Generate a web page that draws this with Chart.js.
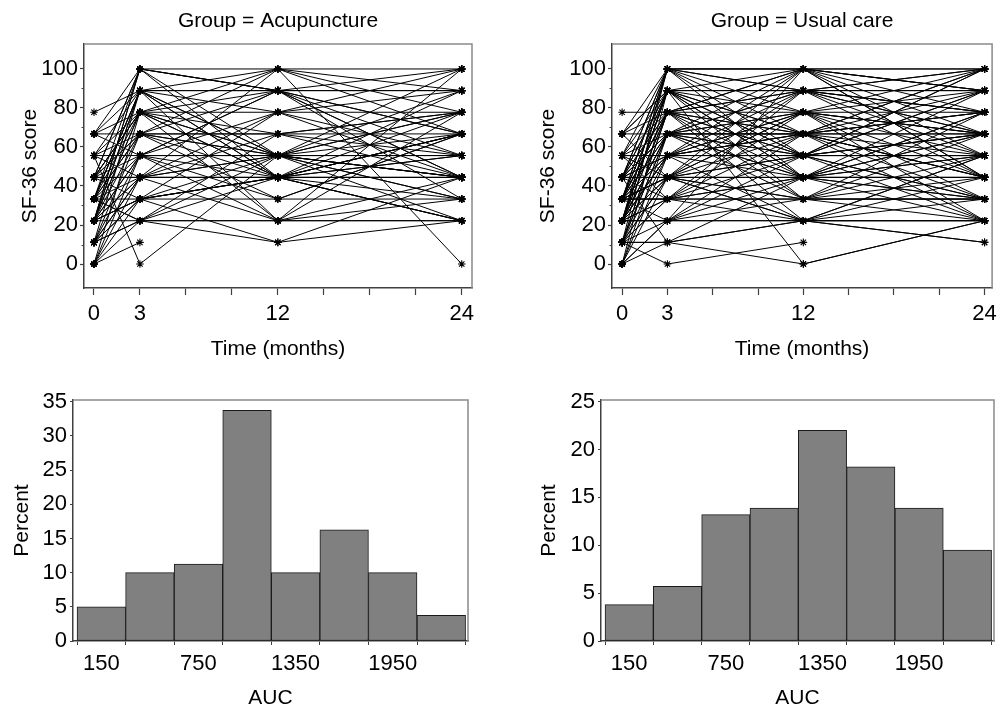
<!DOCTYPE html>
<html>
<head>
<meta charset="utf-8">
<script src="https://cdn.jsdelivr.net/npm/chart.js@4/dist/chart.umd.min.js"></script>
<style>
    body { margin: 0; background: #fff; width: 1003px; height: 712px; overflow: hidden; position: relative; }
    canvas { position: absolute; }
</style>
</head>
<body>
<canvas id="acuLines" width="500" height="360" style="left:0;top:0"></canvas>
<canvas id="usualLines" width="503" height="360" style="left:500px;top:0"></canvas>
<canvas id="acuHist" width="500" height="352" style="left:0;top:360px"></canvas>
<canvas id="usualHist" width="503" height="352" style="left:500px;top:360px"></canvas>
<script>
// visit times and the SF-36 score steps (profiles below index into scoreLevels)
const months = [0, 3, 12, 24];
const scoreLevels = [0, 11.1, 22.2, 33.3, 44.4, 55.6, 66.7, 77.8, 88.9, 100];

// one row per patient: level at 0, 3, 12, 24 months (null = missing)
const acuProfiles = [
    [7, 8, 8, 8], [0, 1, null, null], [5, 0, 5, 4], [4, 7, 9, 0], [2, 3, 1, 2], [1, 2, 1, 4],
    [2, 9, 9, 9], [3, 8, 8, 8], [4, 7, 7, 7], [6, 6, 6, 6], [5, 5, 5, 5], [4, 4, 4, 4],
    [4, 4, 4, 4], [3, 2, 2, 2], [2, 2, 2, 2], [1, 3, 3, 3], [2, 8, 2, 9], [3, 9, 4, 6],
    [2, 9, 8, 4], [4, 9, 5, 2], [1, 8, 4, 6], [2, 8, 5, 3], [3, 8, 9, 7], [0, 7, 4, 5],
    [2, 7, 6, 4], [4, 7, 8, 6], [3, 7, 2, 3], [5, 6, 9, 8], [1, 6, 5, 7], [3, 6, 4, 2],
    [2, 6, 8, 9], [0, 5, 4, 6], [6, 5, 7, 8], [2, 5, 3, 6], [4, 5, 8, 5], [1, 4, 5, 7],
    [3, 4, 7, 4], [5, 4, 4, 3], [0, 4, 6, 7], [2, 4, 9, 6], [1, 3, 5, 4], [4, 3, 4, 6],
    [2, 3, 7, 9], [0, 2, 4, 5], [3, 2, 5, 4], [1, 2, 6, 5], [6, 8, 5, 4], [5, 7, 4, 2],
    [4, 6, 5, 9], [3, 5, 2, 7], [2, 4, 2, 4], [1, 5, 8, 3], [6, 9, 8, 6], [3, 8, 7, 5],
    [4, 6, 3, 6], [2, 7, 5, 8], [0, 3, 4, 2], [3, 3, 4, 4], [5, 8, 4, 7], [2, 5, 5, 5],
    [4, 4, 5, 3], [1, 4, 4, 4], [3, 6, 6, 7], [4, 9, 8, 4], [2, 3, 4, 8], [6, 7, 5, 6]
];
const usualProfiles = [
    [7, 7, 6, 7], [1, 0, 1, null], [2, 8, 0, 2], [1, 1, 0, 2], [3, 4, 2, 1], [0, 1, 2, 3],
    [1, 1, 4, 5], [0, 2, 3, 4], [2, 9, 9, 9], [3, 9, 9, 9], [4, 8, 8, 8], [2, 8, 8, 9],
    [3, 7, 7, 7], [4, 6, 6, 6], [6, 6, 6, 6], [5, 5, 5, 5], [4, 4, 4, 4], [4, 4, 4, 4],
    [3, 3, 3, 3], [2, 2, 2, 2], [2, 2, 2, 2], [1, 3, 3, 3], [3, 9, 8, 7], [2, 9, 6, 8],
    [4, 9, 5, 6], [1, 9, 4, 3], [6, 8, 9, 8], [2, 8, 7, 5], [3, 8, 6, 4], [4, 8, 5, 2],
    [0, 8, 4, 6], [5, 8, 3, 7], [1, 7, 9, 8], [2, 7, 8, 6], [3, 7, 5, 9], [4, 7, 4, 3],
    [6, 7, 2, 4], [2, 6, 9, 7], [3, 6, 8, 5], [1, 6, 7, 4], [4, 6, 5, 8], [5, 6, 4, 2],
    [0, 6, 3, 5], [2, 5, 9, 6], [3, 5, 8, 4], [4, 5, 7, 9], [1, 5, 6, 3], [5, 5, 4, 7],
    [2, 5, 2, 5], [3, 4, 9, 4], [1, 4, 8, 7], [2, 4, 7, 3], [4, 4, 6, 9], [0, 4, 5, 8],
    [3, 4, 3, 6], [6, 4, 2, 2], [2, 3, 8, 8], [1, 3, 7, 6], [3, 3, 6, 2], [4, 3, 5, 9],
    [2, 3, 4, 7], [0, 2, 9, 5], [1, 2, 6, 4], [3, 2, 5, 3], [2, 2, 4, 6], [4, 1, 2, 5],
    [5, 9, 7, 6], [6, 8, 6, 5], [4, 7, 8, 7], [3, 6, 4, 4], [2, 5, 5, 6], [1, 4, 4, 5],
    [5, 3, 4, 8], [3, 7, 9, 4], [2, 6, 7, 8], [4, 5, 6, 7], [3, 8, 5, 5], [1, 7, 6, 9],
    [2, 4, 3, 2], [5, 7, 5, 3], [3, 5, 7, 2], [4, 9, 8, 6], [2, 8, 4, 4], [6, 9, 9, 8],
    [1, 6, 5, 6], [3, 4, 5, 5], [4, 6, 8, 9], [2, 7, 3, 3], [0, 5, 6, 7], [3, 3, 2, 1],
    [5, 4, 7, 6], [2, 6, 6, 4]
];

// AUC histograms (bin midpoints, percent of patients)
const aucBins = [150, 450, 750, 1050, 1350, 1650, 1950, 2250];
const acuPercent = [5, 10, 11.25, 33.75, 10, 16.25, 10, 3.75];
const usualPercent = [3.8, 5.7, 13.2, 13.9, 22.0, 18.2, 13.9, 9.5];

// axis ticks
const timeTicks = [0, 3, 6, 9, 12, 15, 18, 21, 24];
const timeLabels = [0, 3, 12, 24];
const scoreTicks = [0, 20, 40, 60, 80, 100];
const scoreMinor = [10, 30, 50, 70, 90];
const aucTicks = [150, 450, 750, 1050, 1350, 1650, 1950, 2250];
const aucLabels = [150, 750, 1350, 1950];
const acuPctTicks = [0, 5, 10, 15, 20, 25, 30, 35];
const usualPctTicks = [0, 5, 10, 15, 20, 25];

Chart.defaults.font.family = "'Liberation Sans', Arial, sans-serif";
Chart.defaults.font.size = 22;
Chart.defaults.color = '#000';

const AXIS = '#404040';

// grey top/right frame around the plot area
const framePlugin = {
    id: 'frame',
    afterDraw(chart) {
        const { ctx, chartArea: a } = chart;
        ctx.save();
        ctx.strokeStyle = '#8a8a8a';
        ctx.lineWidth = 1.5;
        ctx.beginPath();
        ctx.moveTo(a.left, a.top);
        ctx.lineTo(a.right, a.top);
        ctx.lineTo(a.right, a.bottom);
        ctx.stroke();
        ctx.restore();
    }
};

// short unlabeled ticks on the y axis
const minorTickPlugin = {
    id: 'minorTicks',
    afterDraw(chart, args, opts) {
        if (!opts || !opts.values) return;
        const y = chart.scales.y;
        const ctx = chart.ctx;
        ctx.save();
        ctx.strokeStyle = AXIS;
        ctx.lineWidth = 1;
        opts.values.forEach(v => {
            const py = Math.round(y.getPixelForValue(v)) + 0.5;
            ctx.beginPath();
            ctx.moveTo(y.right, py);
            ctx.lineTo(y.right - opts.length, py);
            ctx.stroke();
        });
        ctx.restore();
    }
};

Chart.register(framePlugin, minorTickPlugin);

function spaghetti(id, profiles, opt) {
    const datasets = profiles.map(p => ({
        data: p.map((lv, i) => lv === null ? null : { x: months[i], y: scoreLevels[lv] })
            .filter(pt => pt !== null),
        showLine: true,
        borderColor: '#000',
        borderWidth: 1,
        pointStyle: 'star',
        pointRadius: 3.8,
        pointBorderColor: '#000',
        pointBackgroundColor: '#000',
        pointBorderWidth: 1.1
    }));
    new Chart(document.getElementById(id), {
        type: 'scatter',
        data: { datasets },
        options: {
            responsive: false,
            animation: false,
            events: [],
            devicePixelRatio: 1,
            layout: { padding: { left: 0, right: opt.padRight, top: 0, bottom: 0 } },
            plugins: {
                legend: { display: false },
                tooltip: { enabled: false },
                title: {
                    display: true,
                    text: opt.title,
                    fullSize: false,
                    color: '#000',
                    font: { size: 21, weight: 'normal', lineHeight: 1.2 },
                    padding: { top: 9, bottom: 9.8 }
                },
                minorTicks: { values: scoreMinor, length: 2.5 }
            },
            scales: {
                x: {
                    type: 'linear',
                    min: opt.xMin,
                    max: opt.xMax,
                    afterFit: s => { s.height = 72; },
                    afterBuildTicks: s => { s.ticks = timeTicks.map(v => ({ value: v })); },
                    ticks: {
                        autoSkip: false,
                        maxRotation: 0,
                        padding: 6,
                        callback: v => timeLabels.includes(v) ? String(v) : ''
                    },
                    grid: { drawOnChartArea: false, tickLength: 7, tickColor: AXIS, tickWidth: 1.2 },
                    border: { color: AXIS, width: 1.5 },
                    title: {
                        display: true,
                        text: 'Time (months)',
                        font: { size: 21, lineHeight: 1 },
                        padding: { top: 0, bottom: 0 }
                    }
                },
                y: {
                    type: 'linear',
                    min: -12.3,
                    max: 112.8,
                    afterFit: s => { s.width = opt.yWidth; },
                    afterBuildTicks: s => { s.ticks = scoreTicks.map(v => ({ value: v })); },
                    ticks: { padding: 2 },
                    grid: { drawOnChartArea: false, tickLength: 4, tickColor: AXIS, tickWidth: 1.2 },
                    border: { color: AXIS, width: 1.5 },
                    title: {
                        display: true,
                        text: 'SF-36 score',
                        font: { size: 21, lineHeight: 1.2 },
                        padding: { top: opt.yTitlePad, bottom: 0 }
                    }
                }
            }
        }
    });
}

function histogram(id, values, pctTicks, opt) {
    new Chart(document.getElementById(id), {
        type: 'bar',
        data: {
            datasets: [{
                data: aucBins.map((b, i) => ({ x: b, y: values[i] })),
                backgroundColor: '#808080',
                borderColor: '#1a1a1a',
                borderWidth: 1,
                borderSkipped: false,
                barPercentage: 1,
                categoryPercentage: 1
            }]
        },
        options: {
            responsive: false,
            animation: false,
            events: [],
            devicePixelRatio: 1,
            layout: { padding: { left: 0, right: opt.padRight, top: 40, bottom: 0 } },
            plugins: {
                legend: { display: false },
                tooltip: { enabled: false }
            },
            scales: {
                x: {
                    type: 'linear',
                    min: -25,
                    max: 2415,
                    offset: false,
                    afterFit: s => { s.height = 71; },
                    afterBuildTicks: s => { s.ticks = aucTicks.map(v => ({ value: v })); },
                    ticks: {
                        autoSkip: false,
                        maxRotation: 0,
                        padding: 6,
                        callback: v => aucLabels.includes(v) ? String(v) : ''
                    },
                    grid: { drawOnChartArea: false, tickLength: 4, tickColor: AXIS, tickWidth: 1 },
                    border: { color: AXIS, width: 1.5 },
                    title: {
                        display: true,
                        text: 'AUC',
                        font: { size: 21, lineHeight: 1 },
                        padding: { top: 0, bottom: 3.5 }
                    }
                },
                y: {
                    type: 'linear',
                    min: 0,
                    max: opt.yMax,
                    afterFit: s => { s.width = opt.yWidth; },
                    afterBuildTicks: s => { s.ticks = pctTicks.map(v => ({ value: v })); },
                    ticks: { padding: 3 },
                    grid: { drawOnChartArea: false, tickLength: 3, tickColor: AXIS, tickWidth: 1 },
                    border: { color: AXIS, width: 1.5 },
                    title: {
                        display: true,
                        text: 'Percent',
                        font: { size: 21, lineHeight: 1.2 },
                        padding: { top: opt.yTitlePad, bottom: 0 }
                    }
                }
            }
        }
    });
}

spaghetti('acuLines', acuProfiles, {
    title: 'Group = Acupuncture', xMin: -0.65, xMax: 24.67, yWidth: 84, padRight: 28, yTitlePad: 18
});
spaghetti('usualLines', usualProfiles, {
    title: 'Group = Usual care', xMin: -0.67, xMax: 24.5, yWidth: 112, padRight: 6, yTitlePad: 36
});
histogram('acuHist', acuPercent, acuPctTicks, { yMax: 35.25, yWidth: 73, padRight: 32, yTitlePad: 10 });
histogram('usualHist', usualPercent, usualPctTicks, { yMax: 25.18, yWidth: 101, padRight: 9, yTitlePad: 37 });
</script>
</body>
</html>
